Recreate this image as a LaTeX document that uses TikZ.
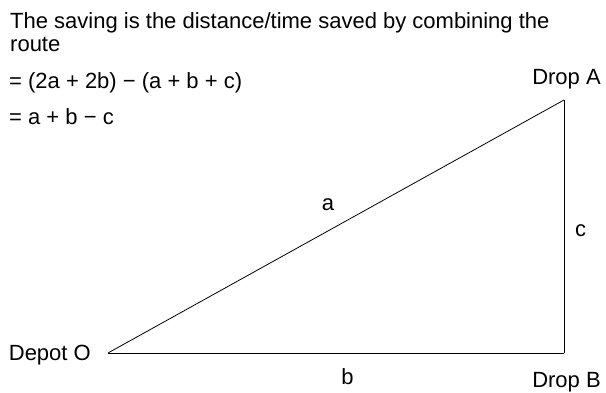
\documentclass[tikz,border=0pt]{standalone}
\usepackage{fontspec}
\setmainfont{Liberation Sans}
\usetikzlibrary{positioning}

\begin{document}
\begin{tikzpicture}[x=1pt,y=-1pt,
      lbl/.style={font=\fontsize{22}{26}\selectfont,inner sep=0pt},
      leg/.style={line width=0.8pt}]
    \useasboundingbox (0,0) rectangle (606,393);
    % route triangle
    \coordinate (O) at (108,353);
    \coordinate (A) at (564,100);
    \coordinate (B) at (564,353);
    \draw[leg] (O) -- node[lbl,anchor=base,xshift=-8pt,yshift=16pt] (la) {a} (A);
    \draw[leg] (A) -- node[lbl,anchor=base,xshift=16.5pt,yshift=-10pt] (lc) {c} (B);
    \draw[leg] (B) -- node[lbl,anchor=base,xshift=11.5pt,yshift=-31.3pt] (lb) {b} (O);
    \node[lbl,anchor=base east] (depot) at ([shift={(-17,7.5)}]O) {Depot O};
    \node[lbl,anchor=base] (dropa) at ([shift={(2.5,-15)}]A) {Drop A};
    \node[lbl,anchor=base] (dropb) at ([shift={(2.5,34.5)}]B) {Drop B};
    % saving text
    \node[lbl,anchor=base west] (t1) at (10,28.3) {The saving is the distance/time saved by combining the};
    \node[lbl,anchor=base west] (t2) at (10,51.7) {route};
    \node[lbl,anchor=base west] (t3) at (9,89) {= (2a + 2b) − (a + b + c)};
    \node[lbl,anchor=base west] (t4) at (9,125) {= a + b − c};
  \end{tikzpicture}
\end{document}
